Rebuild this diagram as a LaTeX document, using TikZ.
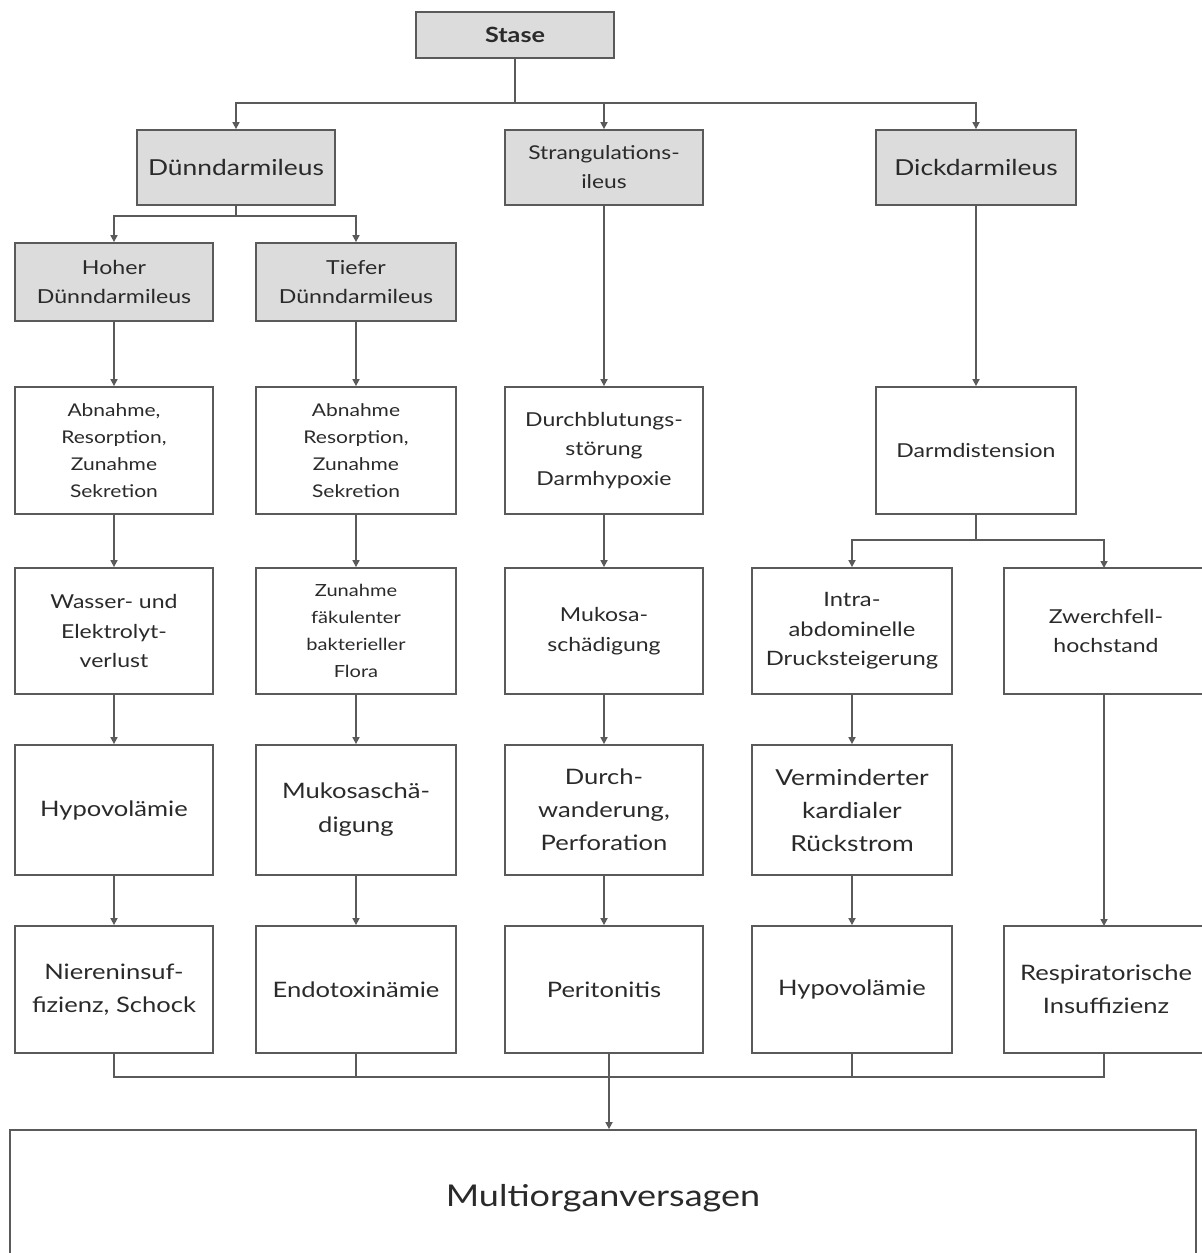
\documentclass[tikz,border=0pt]{standalone}
\usepackage{fontspec}
\setmainfont{Lato}[FakeStretch=1.2]
\usetikzlibrary{arrows.meta}
\definecolor{linec}{HTML}{5A5A5A}
\definecolor{boxfill}{HTML}{DCDCDC}
\definecolor{txt}{HTML}{2A2A2A}
\tikzset{
  box/.style={draw=linec, line width=1.8pt, align=center, inner sep=0pt, text=txt},
  gbox/.style={box, fill=boxfill},
  w1/.style={minimum width=198pt},
  w2/.style={minimum width=200pt},
  conn/.style={draw=linec, line width=1.6pt},
  arr/.style={conn, -{Triangle[length=7pt,width=7pt]}},
  fxs/.style={font=\fontsize{17.5}{27}\selectfont},
  fs/.style={font=\fontsize{19.2}{29.5}\selectfont},
  fl/.style={font=\fontsize{21.3}{33}\selectfont},
}
\begin{document}
\begin{tikzpicture}[x=1pt,y=-1pt]
\clip (0,0) rectangle (1202,1253);
\useasboundingbox (0,0) rectangle (1202,1253);
% row 0
\node[gbox,w1,minimum height=46pt,font=\fontsize{21}{24}\selectfont\bfseries] (stase) at (515,35) {Stase};
% row 1
\node[gbox,w1,minimum height=75pt,font=\fontsize{22}{30}\selectfont] (dunn) at (236,167.5) {Dünndarmileus};
\node[gbox,w1,minimum height=75pt,font=\fontsize{19}{29}\selectfont] (strang) at (604,167.5) {Strangulations-\\ileus};
\node[gbox,w2,minimum height=75pt,font=\fontsize{22}{30}\selectfont] (dick) at (976,167.5) {Dickdarmileus};
% row 2
\node[gbox,w1,minimum height=78pt,font=\fontsize{19.3}{29}\selectfont] (hoher) at (114,282) {Hoher\\Dünndarmileus};
\node[gbox,w2,minimum height=78pt,font=\fontsize{19.3}{29}\selectfont] (tiefer) at (356,282) {Tiefer\\Dünndarmileus};
% row 3
\node[box,w1,minimum height=127pt,fxs] (a3) at (114,450.5) {Abnahme,\\Resorption,\\Zunahme\\Sekretion};
\node[box,w2,minimum height=127pt,fxs] (b3) at (356,450.5) {Abnahme\\Resorption,\\Zunahme\\Sekretion};
\node[box,w1,minimum height=127pt,fs] (c3) at (604,450.5) {Durchblutungs-\\störung\\Darmhypoxie};
\node[box,w2,minimum height=127pt,fs] (d3) at (976,450.5) {Darmdistension};
% row 4
\node[box,w1,minimum height=126pt,fs] (a4) at (114,631) {Wasser- und\\Elektrolyt-\\verlust};
\node[box,w2,minimum height=126pt,font=\fontsize{16.7}{27}\selectfont] (b4) at (356,631) {Zunahme\\fäkulenter\\bakterieller\\Flora};
\node[box,w1,minimum height=126pt,fs] (c4) at (604,631) {Mukosa-\\schädigung};
\node[box,w2,minimum height=126pt,font=\fontsize{19.8}{29.5}\selectfont] (d4) at (852,631) {Intra-\\abdominelle\\Drucksteigerung};
\node[box,minimum width=204pt,minimum height=126pt,fs] (e4) at (1106,631) {Zwerchfell-\\hochstand};
% row 5
\node[box,w1,minimum height=130pt,fl] (a5) at (114,810) {Hypovolämie};
\node[box,w2,minimum height=130pt,font=\fontsize{21.3}{34}\selectfont] (b5) at (356,810) {Mukosaschä-\\digung};
\node[box,w1,minimum height=130pt,fl] (c5) at (604,810) {Durch-\\wanderung,\\Perforation};
\node[box,w2,minimum height=130pt,font=\fontsize{22}{33}\selectfont] (d5) at (852,810) {Verminderter\\kardialer\\Rückstrom};
% row 6
\node[box,w1,minimum height=127pt,fl] (a6) at (114,989.5) {Niereninsuf-\\fizienz, Schock};
\node[box,w2,minimum height=127pt,fl] (b6) at (356,989.5) {Endotoxinämie};
\node[box,w1,minimum height=127pt,fl] (c6) at (604,989.5) {Peritonitis};
\node[box,w2,minimum height=127pt,fl] (d6) at (852,989.5) {Hypovolämie};
\node[box,minimum width=204pt,minimum height=127pt,fl] (e6) at (1106,989.5) {Respiratorische\\Insuffizienz};
% final
\node[box,minimum width=1186pt,minimum height=136pt,font=\fontsize{30}{34}\selectfont] (multi) at (603,1198) {Multiorganversagen};

% connectors
\coordinate (j1) at (515,103);
\draw[conn] (stase.south) -- (j1);
\draw[arr] (j1) -| (dunn.north);
\draw[arr] (j1) -| (dick.north);
\draw[arr] (j1 -| strang.north) -- (strang.north);

\coordinate (j2) at (236,216);
\draw[conn] (dunn.south) -- (j2);
\draw[arr] (j2) -| (hoher.north);
\draw[arr] (j2) -| (tiefer.north);

\draw[arr] (hoher) -- (a3);
\draw[arr] (tiefer) -- (b3);
\draw[arr] (strang) -- (c3);
\draw[arr] (dick) -- (d3);

\coordinate (j3) at (976,540);
\coordinate (e4top) at (1104,568);
\coordinate (e4bot) at (1104,694);
\coordinate (e6top) at (1104,926);
\coordinate (e6bot) at (1104,1053);
\draw[conn] (d3.south) -- (j3);
\draw[arr] (j3) -| (d4.north);
\draw[arr] (j3) -| (e4top);

\draw[arr] (a3) -- (a4);
\draw[arr] (b3) -- (b4);
\draw[arr] (c3) -- (c4);
\draw[arr] (a4) -- (a5);
\draw[arr] (b4) -- (b5);
\draw[arr] (c4) -- (c5);
\draw[arr] (d4) -- (d5);
\draw[arr] (a5) -- (a6);
\draw[arr] (b5) -- (b6);
\draw[arr] (c5) -- (c6);
\draw[arr] (d5) -- (d6);
\draw[arr] (e4bot) -- (e6top);

\coordinate (j4) at (609,1077);
\draw[conn] (a6.south) |- (j4);
\draw[conn] (b6.south) |- (j4);
\draw[conn] (e6bot) |- (j4);
\draw[conn] (d6.south) |- (j4);
\draw[conn] (c6.south -| j4) -- (j4);
\draw[arr] (j4) -- (j4 |- multi.north);
\end{tikzpicture}
\end{document}
